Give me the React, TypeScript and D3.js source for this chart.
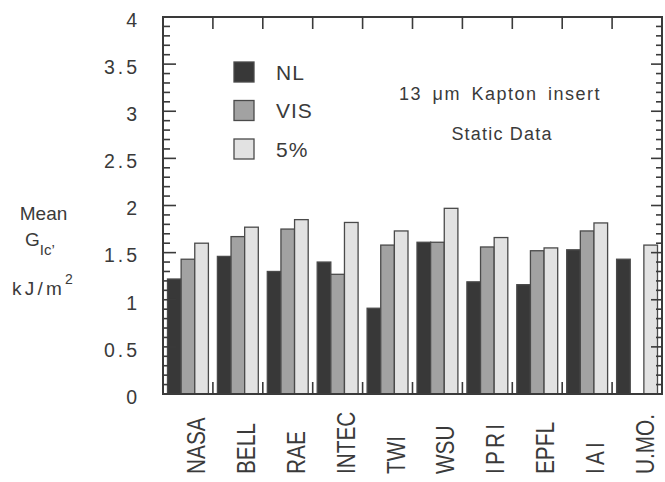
import React from 'react';
import * as d3 from 'd3';

const categories = ['NASA', 'BELL', 'RAE', 'INTEC', 'TWI', 'WSU', 'IPRI', 'EPFL', 'IAI', 'U.MO.'];
const seriesNames = ['NL', 'VIS', '5%'];
const nlValues = [1.22, 1.46, 1.3, 1.4, 0.91, 1.61, 1.19, 1.16, 1.53, 1.43];
const visValues: (number | null)[] = [1.43, 1.67, 1.75, 1.27, 1.58, 1.61, 1.56, 1.52, 1.73, null];
const pct5Values = [1.6, 1.77, 1.85, 1.82, 1.73, 1.97, 1.66, 1.55, 1.815, 1.58];
const yTicks = [0, 0.5, 1, 1.5, 2, 2.5, 3, 3.5, 4];
const yTickLabels = ['0', '0.5', '1', '1.5', '2', '2.5', '3', '3.5', '4'];

const FILLS = ['#383838', '#a2a2a2', '#e2e2e2'];
const INK = '#3a3a3a';
const FONT = '"Liberation Sans", Arial, Helvetica, sans-serif';

export default function App() {
  const W = 665, H = 482;
  const left = 163, right = 662, top = 17, bottom = 394;
  const x = d3.scaleBand<string>().domain(categories).range([left, right]).paddingInner(0).paddingOuter(0);
  const sub = d3.scaleBand<string>().domain(seriesNames).range([4.5, x.bandwidth() - 4.5]).padding(0);
  const y = d3.scaleLinear().domain([0, 4]).range([bottom, top]);
  const series = [nlValues, visValues, pct5Values];

  const minor = d3.range(0, 41).map((i) => i / 10);

  return (
    <svg width={W} height={H} style={{ position: 'fixed', left: 0, top: 0, background: '#fff' }} fontFamily={FONT}>
      <rect x={0} y={0} width={W} height={H} fill="#fff" />
      {/* bars */}
      {categories.map((c, i) => (
        <g key={c}>
          {series.map((s, k) => {
            const v = s[i];
            if (v == null) return null;
            const bx = (x(c) as number) + (sub(seriesNames[k]) as number);
            return (
              <rect key={k} x={bx} y={y(v)} width={sub.bandwidth()} height={y(0) - y(v)}
                fill={FILLS[k]} stroke="#4a4a4a" strokeWidth={1.3} />
            );
          })}
        </g>
      ))}
      {/* frame */}
      <rect x={left} y={top} width={right - left} height={bottom - top} fill="none" stroke={INK} strokeWidth={2} />
      {/* y ticks left and right */}
      {minor.map((v) => {
        const major = Math.abs(v * 2 - Math.round(v * 2)) < 1e-6;
        const yy = y(v);
        return (
          <g key={v}>
            <line x1={left} x2={left + (major ? 13 : 7)} y1={yy} y2={yy} stroke={INK} strokeWidth={1.6} />
            <line x1={right} x2={right - (major ? 11 : 6)} y1={yy} y2={yy} stroke={INK} strokeWidth={1.6} />
          </g>
        );
      })}
      {/* category separators top & bottom */}
      {categories.slice(1).map((c) => {
        const xx = x(c) as number;
        return (
          <g key={c}>
            <line x1={xx} x2={xx} y1={top} y2={top + 12} stroke={INK} strokeWidth={1.6} />
            <line x1={xx} x2={xx} y1={bottom} y2={bottom - 12} stroke={INK} strokeWidth={1.6} />
          </g>
        );
      })}
      {/* y tick labels */}
      {yTicks.map((v, i) => (
        <text key={v} x={140} y={y(v) + 3} dy="0.35em" textAnchor="end" fontSize={19.5}
          letterSpacing={3} fill={INK}>{yTickLabels[i]}</text>
      ))}
      {/* x labels */}
      {categories.map((c) => {
        const cx = (x(c) as number) + x.bandwidth() / 2 + 17;
        const spaced = c === 'IAI' || c === 'IPRI';
        return (
          <text key={c} transform={`translate(${cx},474) rotate(-90) scale(0.8,1)`} textAnchor="start"
            fontSize={26} letterSpacing={spaced ? 4 : 0} fill={INK}>{c}</text>
        );
      })}
      {/* y axis title */}
      <text x={43.5} y={220} textAnchor="middle" fontSize={19} fill={INK}>Mean</text>
      <text x={25} y={246} fontSize={19} fill={INK}>G<tspan dy={9} fontSize={15}>Ic’</tspan></text>
      <text x={12} y={295} fontSize={19} fill={INK} letterSpacing={3.2}>kJ/m<tspan dy={-11} fontSize={14} letterSpacing={0}>2</tspan></text>
      {/* legend */}
      {seriesNames.map((n, k) => (
        <g key={n}>
          <rect x={234} y={62 + k * 38.5} width={20} height={20} fill={FILLS[k]} stroke="#4a4a4a" strokeWidth={1.3} />
          <text x={276} y={72 + k * 38.5} dy="0.36em" fontSize={21} letterSpacing={1} fill={INK}>{n}</text>
        </g>
      ))}
      {/* annotations */}
      <text x={500} y={100} textAnchor="middle" fontSize={18} letterSpacing={1.5} wordSpacing={4} fill={INK}>13 μm Kapton insert</text>
      <text x={502} y={140} textAnchor="middle" fontSize={18} letterSpacing={1.2} fill={INK}>Static Data</text>
    </svg>
  );
}
